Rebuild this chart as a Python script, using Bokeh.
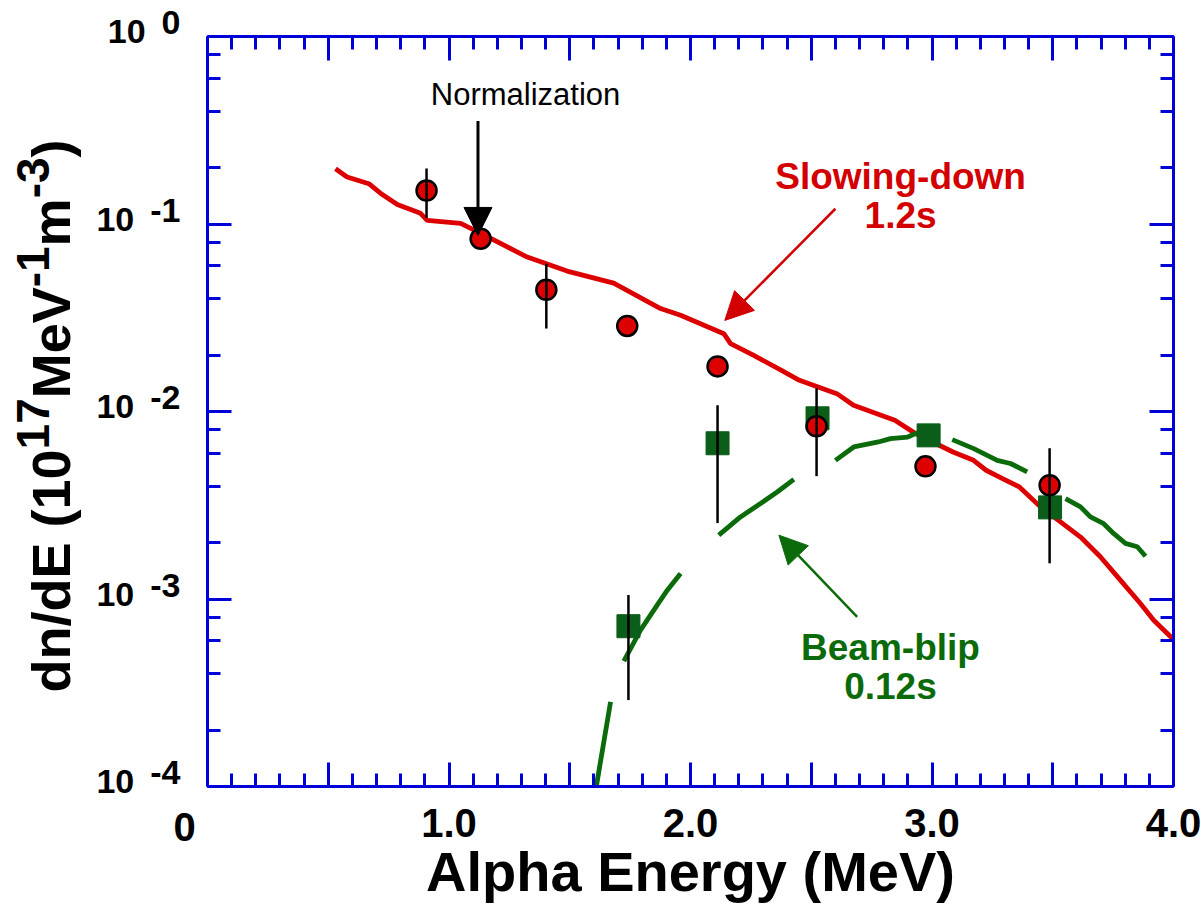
import math
from bokeh.plotting import figure
from bokeh.models import (Range1d, LinearAxis, LogAxis, FixedTicker, LogTicker,
                          Label, Arrow, NormalHead)
from bokeh.embed import file_html
from bokeh.resources import INLINE

nan = float("nan")

# ---------------- data ----------------
# Slowing-down model curve (1.2 s)
sd_E = [0.530, 0.578, 0.668, 0.716, 0.786, 0.882, 0.910, 1.048, 1.130, 1.324,
        1.489, 1.682, 1.876, 1.959, 2.138, 2.166, 2.262, 2.373, 2.451, 2.606,
        2.675, 2.846, 2.932, 3.087, 3.172, 3.224, 3.292, 3.362, 3.449, 3.532,
        3.615, 3.697, 3.780, 3.863, 3.918, 4.000]
sd_v = [0.197, 0.178, 0.164, 0.146, 0.127, 0.114, 0.1045, 0.1007, 0.0894, 0.0666,
        0.0561, 0.0484, 0.0354, 0.0326, 0.0260, 0.0230, 0.0199, 0.01667, 0.01466, 0.01245,
        0.01079, 0.00897, 0.00762, 0.00608, 0.00549, 0.00486, 0.00439, 0.00396, 0.00310, 0.00258,
        0.00214, 0.00168, 0.00126, 0.000946, 0.000771, 0.000608]

# Beam-blip model curve (0.12 s), drawn in broken pieces
bb_E = [1.610, 1.669, nan,
        1.724, 1.793, 1.862, 1.904, 1.959, nan,
        2.117, 2.207, 2.290, 2.359, 2.428, nan,
        2.600, 2.676, 2.778, 2.828, 2.899, 2.944, nan,
        3.084, 3.173, 3.270, 3.325, 3.394, nan,
        3.553, 3.615, 3.656, 3.711, 3.753, 3.801, 3.850, 3.884]
bb_v = [1.0e-4, 2.83e-4, nan,
        4.66e-4, 6.82e-4, 9.27e-4, 1.114e-3, 1.368e-3, nan,
        2.19e-3, 2.74e-3, 3.23e-3, 3.72e-3, 4.35e-3, nan,
        5.49e-3, 6.47e-3, 6.88e-3, 7.17e-3, 7.31e-3, 7.74e-3, nan,
        7.08e-3, 6.34e-3, 5.49e-3, 5.28e-3, 4.76e-3, nan,
        3.43e-3, 3.10e-3, 2.74e-3, 2.52e-3, 2.23e-3, 1.98e-3, 1.90e-3, 1.69e-3]

# Measured points: slowing-down (red circles)
circ_E = [0.907, 1.131, 1.403, 1.738, 2.112, 2.522, 2.973, 3.487]
circ_v = [0.151, 0.0835, 0.0446, 0.0286, 0.0174, 0.00834, 0.00510, 0.00404]
# Measured points: beam-blip (green squares)
sq_E = [1.743, 2.112, 2.526, 2.986, 3.489]
sq_v = [7.16e-4, 6.77e-3, 9.2e-3, 7.46e-3, 3.08e-3]

# Error bars
err_E = [0.907, 1.403, 2.522, 3.487, 1.743, 2.112]
err_lo = [0.108, 0.0277, 0.00452, 0.00155, 2.89e-4, 2.54e-3]
err_hi = [0.198, 0.0614, 0.0133, 0.00637, 1.05e-3, 1.08e-2]

# Axis extents, ticks and labels
E_MIN, E_MAX = 0.0, 4.0
V_MIN, V_MAX = 1e-4, 1.0
x_major = [0.0, 0.5, 1.0, 1.5, 2.0, 2.5, 3.0, 3.5, 4.0]
x_major_labels = ["", "", "1.0", "", "2.0", "", "3.0", "", "4.0"]
x_minor = [round(0.1 * i, 1) for i in range(1, 40)]
y_ticks = [1.0, 0.1, 0.01, 0.001, 0.0001]
y_exps = ["0", "-1", "-2", "-3", "-4"]

BLUE = "#0000d8"
RED = "#dd0000"
RED_TXT = "#d20000"
GREEN = "#0b6b0b"
SQ_GREEN = "#0b5e1a"
FONT = "Liberation Sans"

# canvas geometry: plot box from x=207..1173 px, y=36..786 px
W_PX, H_PX = 1201, 921
LEFT, RIGHT, TOP, BOTTOM = 207, 1173, 36, 786
ppe = (RIGHT - LEFT) / (E_MAX - E_MIN)                       # px per MeV
ppd = (BOTTOM - TOP) / (math.log10(V_MAX) - math.log10(V_MIN))  # px per decade
x_lo = E_MIN - LEFT / ppe
x_hi = E_MAX + (W_PX - RIGHT) / ppe
y_lo = 10 ** (math.log10(V_MIN) - (H_PX - BOTTOM) / ppd)
y_hi = 10 ** (math.log10(V_MAX) + TOP / ppd)

def v_at(sy):
    """data value at a screen row (used only for placing annotation text)"""
    return 10 ** (math.log10(V_MAX) - (sy - TOP) / ppd)

# Arial/Liberation Sans Bold advance widths (per 1000 em) for layout of rich labels
W = {" ": 278, "(": 333, ")": 333, "-": 333, "/": 278, ".": 278, "d": 611, "n": 611,
     "E": 667, "M": 833, "e": 556, "V": 667, "m": 889}
def text_w(s, size):
    return sum(W.get(c, 556) for c in s) / 1000.0 * size

# ---------------- figure ----------------
p = figure(width=W_PX, height=H_PX, y_axis_type="log",
           x_range=Range1d(x_lo, x_hi), y_range=Range1d(y_lo, y_hi),
           x_axis_location=None, y_axis_location=None,
           output_backend="svg", toolbar_location=None,
           min_border_left=0, min_border_right=0, min_border_top=0, min_border_bottom=0)
p.grid.visible = False
p.outline_line_color = None
p.background_fill_color = "white"
p.border_fill_color = "white"

def style(ax):
    ax.axis_line_color = BLUE
    ax.axis_line_width = 3
    ax.major_tick_line_color = BLUE
    ax.major_tick_line_width = 3
    ax.minor_tick_line_color = BLUE
    ax.minor_tick_line_width = 3
    ax.major_tick_in = 24
    ax.major_tick_out = 0
    ax.minor_tick_in = 13
    ax.minor_tick_out = 0

def hide_labels(ax):
    ax.major_label_text_color = None
    ax.major_label_text_font_size = "10px"

bottom = LinearAxis(ticker=FixedTicker(ticks=x_major, minor_ticks=x_minor),
                    fixed_location=V_MIN, bounds=(E_MIN, E_MAX))
style(bottom)
bottom.major_label_overrides = {t: l for t, l in zip(x_major, x_major_labels)}
bottom.major_label_text_font = FONT
bottom.major_label_text_font_style = "bold"
bottom.major_label_text_font_size = "40px"
bottom.major_label_text_color = "black"
bottom.major_label_standoff = 22
bottom.axis_label = "Alpha Energy (MeV)"
bottom.axis_label_text_font = FONT
bottom.axis_label_text_font_style = "bold"
bottom.axis_label_text_font_size = "56px"
bottom.axis_label_text_color = "black"
bottom.axis_label_standoff = 0
p.add_layout(bottom, "below")

top = LinearAxis(ticker=FixedTicker(ticks=x_major, minor_ticks=x_minor),
                 fixed_location=V_MAX, bounds=(E_MIN, E_MAX))
style(top)
hide_labels(top)
p.add_layout(top, "above")

left = LogAxis(ticker=LogTicker(), fixed_location=E_MIN, bounds=(V_MIN, V_MAX))
style(left)
hide_labels(left)
p.add_layout(left, "left")

right = LogAxis(ticker=LogTicker(), fixed_location=E_MAX, bounds=(V_MIN, V_MAX))
style(right)
hide_labels(right)
p.add_layout(right, "right")

# ---------------- glyphs ----------------
p.line(sd_E, sd_v, line_color=RED, line_width=4.8)
p.line(bb_E, bb_v, line_color=GREEN, line_width=4.8)
p.scatter(sq_E, sq_v, marker="square", size=23, fill_color=SQ_GREEN,
          line_color=SQ_GREEN, line_width=1)
p.scatter(circ_E, circ_v, marker="circle", size=20, fill_color=RED,
          line_color="black", line_width=2.5)
p.segment(x0=err_E, y0=err_lo, x1=err_E, y1=err_hi, line_color="black", line_width=2.5)

# ---------------- tick labels for the log axis (10 with raised exponent) ----------------
for t, e in zip(y_ticks, y_exps):
    ew = text_w(e, 34)
    p.add_layout(Label(x=E_MIN, y=t, x_offset=-27, y_offset=14, text=e,
                       text_font=FONT, text_font_style="bold", text_font_size="34px",
                       text_align="right", text_baseline="middle", text_color="black"))
    p.add_layout(Label(x=E_MIN, y=t, x_offset=-27 - ew - 16, y_offset=5, text="10",
                       text_font=FONT, text_font_style="bold", text_font_size="34px",
                       text_align="right", text_baseline="middle", text_color="black"))
# "0" label of the energy axis
p.add_layout(Label(x=E_MIN, y=V_MIN, x_offset=-23, y_offset=-40, text="0",
                   text_font=FONT, text_font_style="bold", text_font_size="40px",
                   text_align="center", text_baseline="middle", text_color="black"))

# ---------------- rotated y-axis title with superscripts ----------------
pieces = [("dn/dE (10", False), ("17", True), ("MeV", False), ("-1", True),
          ("m", False), ("-3", True), (")", False)]
pos = 94
for s, sup in pieces:
    size = 46 if sup else 54
    p.add_layout(Label(x=E_MIN, y=V_MIN, x_offset=(-175 if sup else -157), y_offset=pos,
                       text=s, angle=math.pi / 2, text_font=FONT, text_font_style="bold",
                       text_font_size=f"{size}px", text_align="left",
                       text_baseline="middle", text_color="black"))
    pos += text_w(s, size)

# ---------------- annotations ----------------
p.add_layout(Label(x=1.317, y=v_at(94), text="Normalization", text_font=FONT,
                   text_font_size="31px", text_align="center", text_baseline="middle",
                   text_color="black"))
p.add_layout(Arrow(end=NormalHead(size=28, fill_color="black", line_color="black"),
                   x_start=1.12, y_start=0.354, x_end=1.12, y_end=0.0869,
                   line_color="black", line_width=3))

p.add_layout(Label(x=2.870, y=v_at(176), text="Slowing-down", text_font=FONT,
                   text_font_style="bold", text_font_size="37px", text_align="center",
                   text_baseline="middle", text_color=RED_TXT))
p.add_layout(Label(x=2.870, y=v_at(215), text="1.2s", text_font=FONT,
                   text_font_style="bold", text_font_size="37px", text_align="center",
                   text_baseline="middle", text_color=RED_TXT))
p.add_layout(Arrow(end=NormalHead(size=28, fill_color=RED_TXT, line_color=RED_TXT),
                   x_start=2.600, y_start=0.1206, x_end=2.142, y_end=0.0306,
                   line_color=RED_TXT, line_width=2.5))

p.add_layout(Label(x=2.828, y=v_at(647), text="Beam-blip", text_font=FONT,
                   text_font_style="bold", text_font_size="37px", text_align="center",
                   text_baseline="middle", text_color=GREEN))
p.add_layout(Label(x=2.828, y=v_at(686), text="0.12s", text_font=FONT,
                   text_font_style="bold", text_font_size="37px", text_align="center",
                   text_baseline="middle", text_color=GREEN))
p.add_layout(Arrow(end=NormalHead(size=28, fill_color=GREEN, line_color=GREEN),
                   x_start=2.690, y_start=8.03e-4, x_end=2.366, y_end=2.19e-3,
                   line_color=GREEN, line_width=2.5))

open("out.html", "w").write(file_html(p, INLINE))
